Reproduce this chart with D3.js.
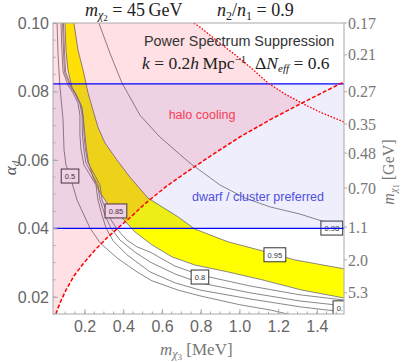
<!DOCTYPE html>
<html>
<head>
<meta charset="utf-8">
<script src="https://cdn.jsdelivr.net/npm/d3@7"></script>
<style>
  body { margin: 0; background: #fff; }
</style>
</head>
<body>
<div id="chart"></div>
<script>
// Axis ticks
var mTicks = [0.2, 0.4, 0.6, 0.8, 1.0, 1.2, 1.4];
var alphaTicks = [0.02, 0.04, 0.06, 0.08, 0.10];
var rightAlpha = [0.1, 0.0907, 0.0799, 0.0705, 0.0620, 0.0518, 0.0404, 0.0308, 0.0212];
var rightLabels = ["0.17", "0.21", "0.27", "0.35", "0.48", "0.70", "1.1", "2.0", "5.3"];

// Contour lines of the power spectrum suppression, [m_chi3 (MeV), alpha_d]
var c050 = [[0.058,0.1000],[0.063,0.0907],[0.073,0.0813],[0.089,0.0717],[0.094,0.0629],[0.104,0.0585],[0.125,0.0553],[0.161,0.0483],[0.192,0.0445],[0.228,0.0401],[0.280,0.0358],[0.367,0.0314],[0.471,0.0273],[0.548,0.0247],[0.682,0.0220],[0.796,0.0203],[1.002,0.0177],[1.157,0.0162],[1.250,0.0150]];
var c060 = [[0.078,0.1000],[0.083,0.0921],[0.089,0.0857],[0.114,0.0819],[0.140,0.0796],[0.166,0.0766],[0.176,0.0731],[0.176,0.0673],[0.182,0.0629],[0.197,0.0585],[0.228,0.0556],[0.259,0.0527],[0.269,0.0483],[0.290,0.0439],[0.311,0.0401],[0.347,0.0364],[0.419,0.0323],[0.538,0.0273],[0.667,0.0241],[0.796,0.0220],[1.054,0.0194],[1.312,0.0171],[1.539,0.0156]];
var c070 = [[0.086,0.1000],[0.091,0.0921],[0.096,0.0857],[0.125,0.0816],[0.151,0.0793],[0.176,0.0764],[0.187,0.0731],[0.189,0.0673],[0.197,0.0629],[0.207,0.0591],[0.238,0.0559],[0.269,0.0527],[0.280,0.0483],[0.305,0.0439],[0.336,0.0401],[0.383,0.0366],[0.460,0.0331],[0.538,0.0302],[0.667,0.0267],[0.796,0.0241],[1.054,0.0212],[1.312,0.0188],[1.539,0.0174]];
var c080 = [[0.091,0.1000],[0.096,0.0921],[0.102,0.0857],[0.132,0.0813],[0.158,0.0790],[0.184,0.0758],[0.194,0.0723],[0.197,0.0673],[0.205,0.0629],[0.218,0.0591],[0.249,0.0559],[0.280,0.0527],[0.290,0.0483],[0.321,0.0439],[0.367,0.0398],[0.419,0.0366],[0.471,0.0346],[0.538,0.0331],[0.667,0.0290],[0.796,0.0264],[1.054,0.0232],[1.312,0.0206],[1.539,0.0191]];
var c085 = [[0.099,0.1000],[0.104,0.0921],[0.114,0.0863],[0.135,0.0813],[0.161,0.0784],[0.187,0.0752],[0.197,0.0702],[0.207,0.0644],[0.218,0.0600],[0.243,0.0550],[0.280,0.0504],[0.331,0.0463],[0.393,0.0431],[0.460,0.0390],[0.548,0.0352],[0.651,0.0317],[0.770,0.0293],[0.940,0.0273],[1.116,0.0250],[1.322,0.0220],[1.539,0.0197]];
var c095 = [[0.145,0.1000],[0.166,0.0921],[0.192,0.0863],[0.218,0.0796],[0.243,0.0746],[0.269,0.0696],[0.305,0.0650],[0.367,0.0600],[0.434,0.0550],[0.527,0.0489],[0.600,0.0463],[0.682,0.0434],[0.770,0.0398],[0.940,0.0361],[1.141,0.0331],[1.286,0.0308],[1.539,0.0282]];
var c098 = [[0.274,0.1000],[0.331,0.0912],[0.393,0.0825],[0.486,0.0731],[0.589,0.0667],[0.744,0.0591],[0.899,0.0527],[1.028,0.0489],[1.157,0.0463],[1.312,0.0442],[1.441,0.0419],[1.539,0.0398]];

// Contour labels
var labelText = ["0.5", "0.85", "0.8", "0.95", "0.98", "0.7"];
var labelAt = [[0.125,0.0553],[0.362,0.0451],[0.796,0.0258],[1.183,0.0323],[1.477,0.0401],[1.529,0.0168]];

// Halo cooling boundaries (dashed and dotted red curves)
var coolingEdge = [[0.052,0.0150],[0.073,0.0182],[0.104,0.0220],[0.145,0.0261],[0.192,0.0296],[0.254,0.0337],[0.321,0.0375],[0.372,0.0401],[0.434,0.0431],[0.512,0.0472],[0.625,0.0524],[0.744,0.0571],[0.873,0.0620],[1.002,0.0667],[1.157,0.0717],[1.322,0.0766],[1.539,0.0828]];
var coolingTop = [[0.765,0.1000],[0.796,0.0988],[0.873,0.0953],[0.966,0.0912],[1.054,0.0872],[1.147,0.0825],[1.234,0.0793],[1.322,0.0766],[1.415,0.0740],[1.539,0.0711]];
var crossM = 1.322;

// dwarf / cluster preferred band in alpha_d
var dwarfBand = [0.04, 0.0822];

// Set svg height and width
var svgWidth = 403;
var svgHeight = 362;
var margin = { top: 23, right: 59, bottom: 48, left: 53 };
var chartWidth = svgWidth - margin.left - margin.right;
var chartHeight = svgHeight - margin.top - margin.bottom;

var svg = d3.select("#chart")
    .append("svg")
    .attr("width", svgWidth)
    .attr("height", svgHeight);

var chartGroup = svg.append("g")
    .attr("transform", `translate(${margin.left}, ${margin.top})`);

var x = d3.scaleLinear().domain([0.037, 1.54]).range([0, chartWidth]);
var y = d3.scaleLinear().domain([0.015, 0.1]).range([chartHeight, 0]);

var line = d3.line().x(d => x(d[0])).y(d => y(d[1]));

svg.append("defs").append("clipPath").attr("id", "plotClip")
    .append("rect").attr("width", chartWidth).attr("height", chartHeight);

var plot = chartGroup.append("g").attr("clip-path", "url(#plotClip)");

// yellow band between 0.85 and 0.95
plot.append("path")
    .attr("d", line(c085.concat(c095.slice().reverse())) + "Z")
    .attr("fill", "#ffff00");

// contour lines
[c050, c060, c070, c080, c085, c095, c098].forEach(function (c) {
    plot.append("path")
        .attr("d", line(c))
        .attr("fill", "none")
        .attr("stroke", "#7a7a7a")
        .attr("stroke-width", 0.9);
});

// contour labels
labelText.forEach(function (t, i) {
    var w = t.length * 4.2 + 5;
    var g = plot.append("g")
        .attr("transform", `translate(${x(labelAt[i][0])}, ${y(labelAt[i][1])})`);
    g.append("rect")
        .attr("x", -w / 2).attr("y", -7)
        .attr("width", w).attr("height", 14)
        .attr("fill", "white")
        .attr("stroke", "#333")
        .attr("stroke-width", 1);
    g.append("text")
        .attr("text-anchor", "middle")
        .attr("y", 2.8)
        .attr("font-family", "Liberation Sans, Arial, sans-serif")
        .attr("font-size", 7.5)
        .attr("fill", "#333")
        .text(t);
});

// halo cooling region (pink)
var pink = [[x.domain()[0], 0.1]]
    .concat(coolingTop.filter(d => d[0] <= crossM))
    .concat(coolingEdge.filter(d => d[0] <= crossM).reverse())
    .concat([[x.domain()[0], 0.015]]);
plot.append("path")
    .attr("d", line(pink) + "Z")
    .attr("fill", "rgb(255,0,30)")
    .attr("fill-opacity", 0.12);

// dwarf / cluster band (lavender)
plot.append("rect")
    .attr("x", 0).attr("width", chartWidth)
    .attr("y", y(dwarfBand[1]))
    .attr("height", y(dwarfBand[0]) - y(dwarfBand[1]))
    .attr("fill", "rgb(90,90,230)")
    .attr("fill-opacity", 0.1);

// blue band edges
dwarfBand.forEach(function (a) {
    plot.append("line")
        .attr("x1", 0).attr("x2", chartWidth)
        .attr("y1", y(a)).attr("y2", y(a))
        .attr("stroke", "#0000ff")
        .attr("stroke-width", 1.3);
});

// red curves
plot.append("path")
    .attr("d", line(coolingEdge))
    .attr("fill", "none")
    .attr("stroke", "#ff0000")
    .attr("stroke-width", 1.5)
    .attr("stroke-dasharray", "4,2");
plot.append("path")
    .attr("d", line(coolingTop))
    .attr("fill", "none")
    .attr("stroke", "#ff0000")
    .attr("stroke-width", 1.3)
    .attr("stroke-dasharray", "1.6,1.6");

// region texts
chartGroup.append("text")
    .attr("x", 149).attr("y", 96)
    .attr("text-anchor", "middle")
    .attr("font-family", "Liberation Sans, Arial, sans-serif")
    .attr("font-size", 12.5)
    .attr("fill", "rgb(245,60,85)")
    .text("halo cooling");
chartGroup.append("text")
    .attr("x", 139).attr("y", 178)
    .attr("font-family", "Liberation Sans, Arial, sans-serif")
    .attr("font-size", 12.5)
    .attr("fill", "rgb(80,80,220)")
    .text("dwarf / cluster preferred");

chartGroup.append("text")
    .attr("x", 91).attr("y", 23)
    .attr("font-family", "Liberation Sans, Arial, sans-serif")
    .attr("font-size", 14.4)
    .attr("fill", "#333")
    .text("Power Spectrum Suppression");

// small helper for math-like text
function mathText(sel, parts) {
    parts.forEach(function (p) {
        var t = sel.append("tspan").text(p.t);
        if (p.i) t.attr("font-style", "italic");
        if (p.s) t.attr("font-size", p.s);
        if (p.dy) t.attr("dy", p.dy);
    });
}

var kText = chartGroup.append("text")
    .attr("x", 89).attr("y", 46)
    .attr("font-family", "Liberation Serif, Times New Roman, serif")
    .attr("font-size", 17.5)
    .attr("fill", "#222");
mathText(kText, [
    {t: "k", i: true}, {t: " = 0.2"}, {t: "h", i: true}, {t: "\u2009Mpc"},
    {t: "\u22121", s: 11, dy: -6}, {t: "\u2002\u0394", dy: 6}, {t: "N", i: true},
    {t: "eff", i: true, s: 11, dy: 3}, {t: " = 0.6", dy: -3}
]);

// titles
var t1 = svg.append("text")
    .attr("x", 85).attr("y", 16)
    .attr("font-family", "Liberation Serif, Times New Roman, serif")
    .attr("font-size", 18)
    .attr("fill", "#222");
mathText(t1, [
    {t: "m", i: true}, {t: "\u03c7", i: true, s: 12, dy: 3}, {t: "2", s: 9, dy: 2},
    {t: " = 45\u2009GeV", dy: -5}
]);
var t2 = svg.append("text")
    .attr("x", 217).attr("y", 16)
    .attr("font-family", "Liberation Serif, Times New Roman, serif")
    .attr("font-size", 18)
    .attr("fill", "#222");
mathText(t2, [
    {t: "n", i: true}, {t: "2", s: 12, dy: 4}, {t: "/", dy: -4}, {t: "n", i: true},
    {t: "1", s: 12, dy: 4}, {t: " = 0.9", dy: -4}
]);

// frame
chartGroup.append("rect")
    .attr("width", chartWidth).attr("height", chartHeight)
    .attr("fill", "none")
    .attr("stroke", "#aaa")
    .attr("stroke-width", 1);

// minor ticks
chartGroup.append("g").selectAll("line")
    .data(x.ticks(30))
    .enter().append("line")
    .attr("x1", d => x(d)).attr("x2", d => x(d))
    .attr("y1", chartHeight).attr("y2", chartHeight - 2.5)
    .attr("stroke", "#aaa");
chartGroup.append("g").selectAll("line")
    .data(y.ticks(17))
    .enter().append("line")
    .attr("x1", 0).attr("x2", 2.5)
    .attr("y1", d => y(d)).attr("y2", d => y(d))
    .attr("stroke", "#aaa");

// axes
var bottomAxis = d3.axisBottom(x).tickValues(mTicks).tickFormat(d3.format(".1f"))
    .tickSizeInner(-5).tickSizeOuter(0).tickPadding(7);
var leftAxis = d3.axisLeft(y).tickValues(alphaTicks).tickFormat(d3.format(".2f"))
    .tickSizeInner(-5).tickSizeOuter(0).tickPadding(4);

var bx = chartGroup.append("g")
    .attr("transform", `translate(0, ${chartHeight})`)
    .call(bottomAxis);
var lx = chartGroup.append("g").call(leftAxis);
[bx, lx].forEach(function (a) {
    a.select(".domain").remove();
    a.selectAll("line").attr("stroke", "#aaa");
    a.selectAll("text")
        .attr("font-family", "Liberation Sans, Arial, sans-serif")
        .attr("font-size", 16)
        .attr("fill", "#666");
});

// right axis (m_chi1 in GeV)
var rg = chartGroup.append("g").attr("transform", `translate(${chartWidth}, 0)`);
rg.selectAll("line")
    .data(rightAlpha)
    .enter().append("line")
    .attr("x1", 0).attr("x2", 3)
    .attr("y1", d => y(d)).attr("y2", d => y(d))
    .attr("stroke", "#aaa");
rg.selectAll("text")
    .data(rightAlpha)
    .enter().append("text")
    .attr("x", 4)
    .attr("y", d => y(d))
    .attr("dy", "0.35em")
    .attr("font-family", "Liberation Serif, Times New Roman, serif")
    .attr("font-size", 16)
    .attr("fill", "#777")
    .text((d, i) => rightLabels[i]);

// axis titles
var xt = svg.append("text")
    .attr("x", 160).attr("y", 355)
    .attr("font-family", "Liberation Serif, Times New Roman, serif")
    .attr("font-size", 17)
    .attr("fill", "#777");
mathText(xt, [
    {t: "m", i: true}, {t: "\u03c7", i: true, s: 12, dy: 3}, {t: "3", s: 9, dy: 2},
    {t: " [MeV]", dy: -5}
]);

var yt = svg.append("text")
    .attr("transform", "translate(16, 168) rotate(-90)")
    .attr("text-anchor", "middle")
    .attr("font-family", "Liberation Serif, Times New Roman, serif")
    .attr("font-size", 17)
    .attr("fill", "#555");
mathText(yt, [{t: "\u03b1", i: true}, {t: "d", i: true, s: 11, dy: 3}]);

var rt = svg.append("text")
    .attr("transform", "translate(394, 172) rotate(-90)")
    .attr("text-anchor", "middle")
    .attr("font-family", "Liberation Serif, Times New Roman, serif")
    .attr("font-size", 16)
    .attr("fill", "#777");
mathText(rt, [
    {t: "m", i: true}, {t: "\u03c7", i: true, s: 11, dy: 3}, {t: "1", s: 8, dy: 2},
    {t: " [GeV]", dy: -5}
]);
</script>
</body>
</html>
